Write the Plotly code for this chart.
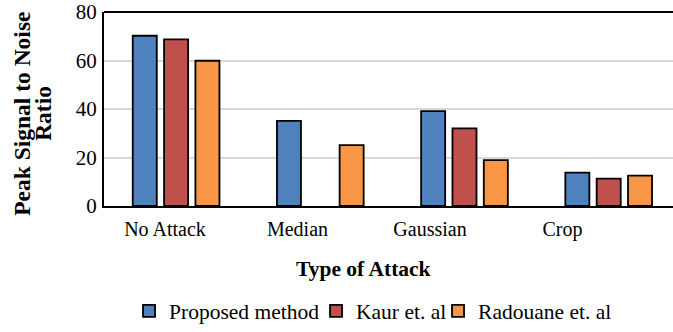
import plotly.graph_objects as go

categories = ["No Attack", "Median", "Gaussian", "Crop"]
proposed = [70.2, 35.1, 39.1, 13.8]
kaur = [68.7, None, 32.0, 11.3]
radouane = [59.9, 25.1, 18.9, 12.5]
series_names = ["Proposed method", "Kaur et. al", "Radouane et. al"]
colors = ["#4F81BD", "#C0504D", "#F79646"]
legend_widths = [142, 77, 140]
y_ticks = [0, 20, 40, 60, 80]

FONT = "Liberation Serif, Times New Roman, serif"

fig = go.Figure()
for name, vals, col, lw in zip(series_names, [proposed, kaur, radouane], colors, legend_widths):
    fig.add_trace(go.Bar(
        x=categories, y=vals, name=name, legendwidth=lw,
        marker=dict(color=col, line=dict(color="black", width=1.8)),
    ))

# invisible trace carrying the category labels on a secondary axis
fig.add_trace(go.Scatter(x=categories, y=[None] * len(categories), xaxis="x2",
                         showlegend=False, hoverinfo="skip", mode="markers"))

fig.update_layout(
    template="none",
    width=673, height=332,
    margin=dict(l=104, r=0, t=12, b=122, pad=0),
    paper_bgcolor="white", plot_bgcolor="white",
    font=dict(family=FONT, size=20, color="black"),
    barmode="group", bargap=0.348, bargroupgap=0.233,
    xaxis=dict(type="category", range=[-0.5, 3.446], showticklabels=False,
               showline=True, linecolor="black", linewidth=2, showgrid=False,
               ticks="", automargin=False, zeroline=False),
    xaxis2=dict(type="category", overlaying="x", anchor="y", side="bottom",
                range=[-0.4604, 3.834], showline=False, showgrid=False,
                zeroline=False, ticks="", tickfont=dict(size=20, family=FONT),
                ticklabelstandoff=9, automargin=False),
    yaxis=dict(range=[0, 80], tickvals=y_ticks, showline=True, linecolor="black",
               linewidth=2, showgrid=True, gridcolor="#D9D9D9", gridwidth=1.5,
               zeroline=False, ticks="", ticklabelstandoff=1, automargin=False,
               tickfont=dict(size=21, family=FONT)),
    legend=dict(orientation="h", x=0.044, y=-0.435, xanchor="left", yanchor="top",
                font=dict(size=21.5, family=FONT), itemwidth=30,
                bgcolor="rgba(0,0,0,0)"),
    shapes=[dict(type="line", xref="paper", yref="paper", x0=0, x1=1, y0=1, y1=1,
                 line=dict(color="black", width=2))],
    annotations=[
        dict(text="<b>Type of Attack</b>", xref="paper", yref="paper",
             x=0.456, y=-0.325, xanchor="center", yanchor="middle",
             showarrow=False, font=dict(size=21.5, family=FONT)),
        dict(text="<b>Peak Signal to Noise</b>", xref="paper", yref="paper",
             x=(22 - 104) / 569, y=0.475, xanchor="center", yanchor="middle",
             textangle=-90, showarrow=False, font=dict(size=23.5, family=FONT)),
        dict(text="<b>Ratio</b>", xref="paper", yref="paper",
             x=(43 - 104) / 569, y=0.475, xanchor="center", yanchor="middle",
             textangle=-90, showarrow=False, font=dict(size=23.5, family=FONT)),
    ],
)

fig.write_html("out.html", config={"displayModeBar": False},
               post_script="document.body.style.margin='0';document.body.style.overflow='hidden';")
